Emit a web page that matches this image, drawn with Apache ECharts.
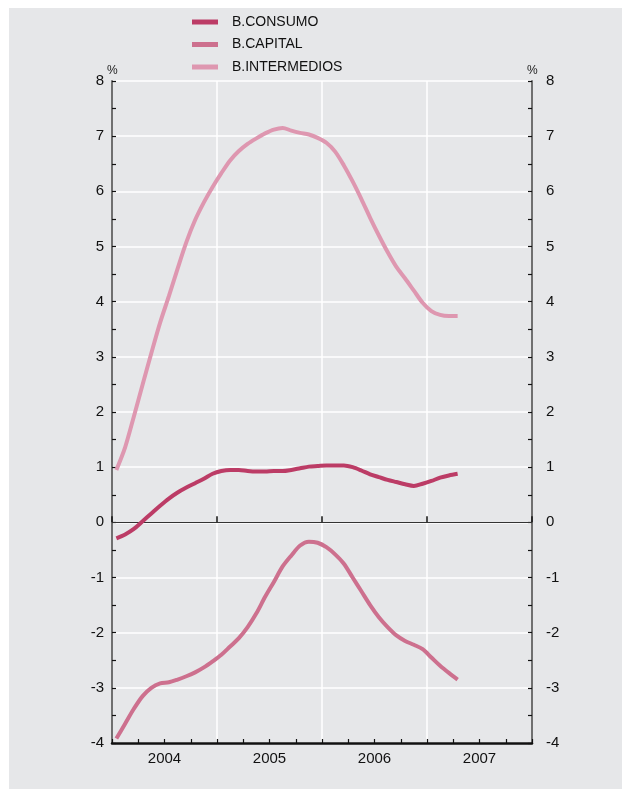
<!DOCTYPE html>
<html>
<head>
<meta charset="utf-8">
<script src="https://cdn.jsdelivr.net/npm/echarts@6/dist/echarts.min.js"></script>
<style>
html,body{margin:0;padding:0;background:#fff;width:629px;height:793px;overflow:hidden;}
#panel{position:absolute;left:9px;top:8px;width:613px;height:781px;background:#e6e7e9;}
#chart{position:absolute;left:0;top:0;width:629px;height:793px;}
</style>
</head>
<body>
<div id="panel"></div>
<div id="chart"></div>
<script>
// Monthly data, Jan 2004 - Apr 2007 (%)
const seriesNames = ['B.CONSUMO', 'B.CAPITAL', 'B.INTERMEDIOS'];
const yearLabels = ['2004', '2005', '2006', '2007'];
const unitLabel = '%';
const consumo = [-0.29, -0.22, -0.12, 0.02, 0.16, 0.30, 0.43, 0.54, 0.63, 0.71, 0.79, 0.88,
  0.93, 0.95, 0.95, 0.93, 0.92, 0.92, 0.93, 0.93, 0.95, 0.98, 1.01, 1.02,
  1.03, 1.03, 1.03, 1.00, 0.94, 0.87, 0.82, 0.77, 0.73, 0.69, 0.66, 0.70,
  0.75, 0.81, 0.85, 0.88];
const capital = [-3.92, -3.65, -3.38, -3.15, -3.00, -2.92, -2.90, -2.85, -2.79, -2.72, -2.63, -2.52,
  -2.40, -2.25, -2.10, -1.90, -1.65, -1.35, -1.08, -0.80, -0.60, -0.42, -0.35, -0.37,
  -0.45, -0.58, -0.75, -1.00, -1.25, -1.50, -1.72, -1.90, -2.05, -2.15, -2.22, -2.30,
  -2.45, -2.60, -2.73, -2.85];
const intermedios = [0.95, 1.36, 1.92, 2.50, 3.07, 3.62, 4.10, 4.60, 5.08, 5.48, 5.80, 6.08,
  6.33, 6.56, 6.73, 6.86, 6.96, 7.05, 7.12, 7.15, 7.10, 7.06, 7.03, 6.97,
  6.88, 6.72, 6.47, 6.18, 5.86, 5.52, 5.20, 4.90, 4.63, 4.42, 4.20, 3.98,
  3.83, 3.76, 3.74, 3.74];

const colors = ['#bc3c66', '#cd708e', '#de97b0'];
const FONT = "'Liberation Sans', Helvetica, Arial, sans-serif";

function toPairs(arr) { return arr.map((v, i) => [i + 0.5, v]); }

const chart = echarts.init(document.getElementById('chart'), null, {renderer: 'canvas'});

const yAxisBase = {
  type: 'value', min: -4, max: 8, interval: 1,
  axisLine: {show: true, onZero: false, lineStyle: {color: '#707070', width: 2}},
  axisTick: {show: true, inside: true, length: 4, lineStyle: {color: '#111', width: 1.2}},
  minorTick: {show: true, splitNumber: 2, length: 4, lineStyle: {color: '#111', width: 1.2}},
  axisLabel: {fontFamily: FONT, fontSize: 15, color: '#111'},
  splitLine: {show: false}
};

const unitText = (x) => ({
  type: 'text', left: x, top: 65,
  style: {text: unitLabel, fontFamily: FONT, fontSize: 12, fill: '#222'}
});

chart.setOption({
  animation: false,
  backgroundColor: 'transparent',
  color: colors,
  graphic: [unitText(107), unitText(527)],
  legend: {
    left: 192, top: 15, orient: 'vertical', padding: 0,
    icon: 'rect', itemWidth: 26, itemHeight: 5, itemGap: 8.5,
    textStyle: {fontFamily: FONT, fontSize: 14, color: '#111', lineHeight: 14, padding: [0, 0, 0, 9]},
    data: seriesNames
  },
  grid: {left: 112, right: 97, top: 81, bottom: 50, containLabel: false},
  xAxis: [{
    type: 'value', min: 0, max: 48, interval: 3,
    axisLine: {show: true, onZero: false, lineStyle: {color: '#111', width: 2.5}},
    axisTick: {show: true, inside: true, length: 4, lineStyle: {color: '#111', width: 1.2}},
    axisLabel: {
      fontFamily: FONT, fontSize: 15, color: '#111', margin: 8,
      formatter: v => (v % 12 === 6 ? yearLabels[(v - 6) / 12] : '')
    },
    splitLine: {show: false}
  }, {
    type: 'value', min: 0, max: 48, interval: 12, position: 'bottom',
    axisLine: {show: false},
    axisTick: {show: true, inside: true, length: 6, lineStyle: {color: '#111', width: 1.5}},
    axisLabel: {show: false},
    splitLine: {show: true, lineStyle: {color: '#ffffff', width: 1.5}}
  }],
  yAxis: [
    Object.assign({}, yAxisBase, {
      position: 'left',
      axisLabel: Object.assign({}, yAxisBase.axisLabel, {margin: 8}),
      splitLine: {show: true, lineStyle: {color: '#ffffff', width: 1.5}}
    }),
    Object.assign({}, yAxisBase, {
      position: 'right',
      axisLabel: Object.assign({}, yAxisBase.axisLabel, {margin: 14})
    })
  ],
  series: [
    {
      name: seriesNames[0], type: 'line', data: toPairs(consumo), smooth: 0.3,
      showSymbol: false, symbol: 'none', z: 5,
      lineStyle: {width: 4, color: colors[0]},
      markLine: {
        silent: true, symbol: 'none', label: {show: false},
        lineStyle: {color: '#333', width: 1.2, type: 'solid'},
        data: [{yAxis: 0}]
      }
    },
    {
      name: seriesNames[1], type: 'line', data: toPairs(capital), smooth: 0.3,
      showSymbol: false, symbol: 'none', z: 4,
      lineStyle: {width: 4, color: colors[1]}
    },
    {
      name: seriesNames[2], type: 'line', data: toPairs(intermedios), smooth: 0.3,
      showSymbol: false, symbol: 'none', z: 3,
      lineStyle: {width: 4, color: colors[2]}
    }
  ]
});
</script>
</body>
</html>
